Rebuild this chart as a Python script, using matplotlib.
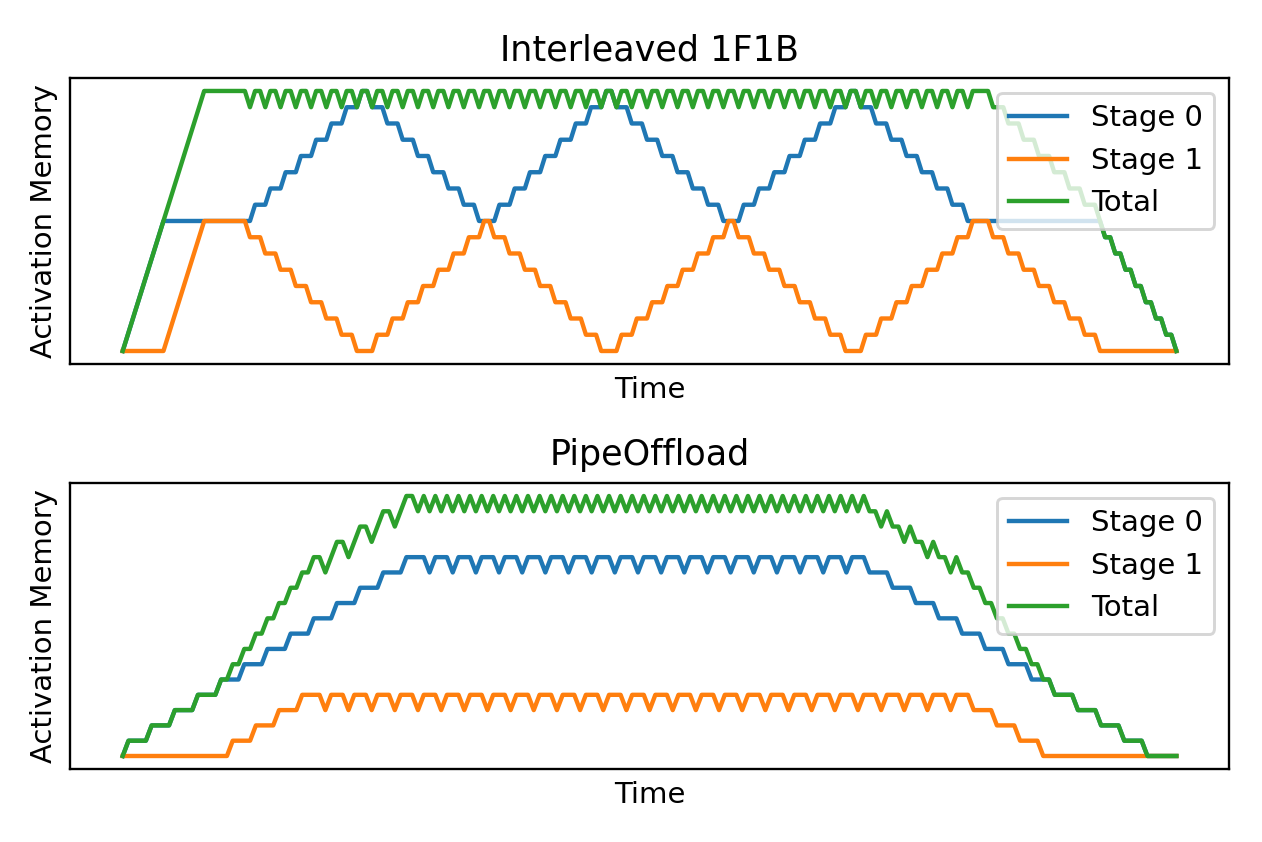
import matplotlib
matplotlib.use("Agg")
import matplotlib.pyplot as plt
import numpy as np

# ---------------- data (time in slots, memory in activation units) ----------------
# Interleaved 1F1B
top_warm_t = [0, 8, 16, 24]
top_warm_s0 = [0, 8, 8, 8]
top_warm_s1 = [0, 0, 8, 8]
top_steady_start = 24
top_steady_period = 3
top_s0_levels = [9, 10, 11, 12, 13, 14, 15, 16, 15, 14, 13, 12, 11, 10, 9, 8,
                 9, 10, 11, 12, 13, 14, 15, 16, 15, 14, 13, 12, 11, 10, 9, 8,
                 9, 10, 11, 12, 13, 14, 15, 16, 15, 14, 13, 12, 11, 10, 9, 8]
top_s1_levels = [7, 6, 5, 4, 3, 2, 1, 0, 1, 2, 3, 4, 5, 6, 7, 8,
                 7, 6, 5, 4, 3, 2, 1, 0, 1, 2, 3, 4, 5, 6, 7, 8,
                 7, 6, 5, 4, 3, 2, 1, 0, 1, 2, 3, 4, 5, 6, 7, 8]
top_cool_s1_start, top_cool_s1_period = 170, 3
top_cool_s1_levels = [7, 6, 5, 4, 3, 2, 1, 0]
top_cool_s0_start, top_cool_s0_period = 192, 2
top_cool_s0_levels = [7, 6, 5, 4, 3, 2, 1, 0]
top_end = 207

# PipeOffload: per 4-slot period, value after slot 1 (a) and after slot 2 (b)
bot_period = 4
bot_end = 182
bot_s0_start = 0
bot_s0_a = ([1, 2, 3, 4, 5, 6, 7, 8, 9, 10, 11, 12, 13] + [12] * 19 +
            [12, 11, 10, 9, 8, 7, 6, 5, 4, 3, 2, 1, 0])
bot_s0_b = ([1, 2, 3, 4, 5, 6, 7, 8, 9, 10, 11, 12, 13] + [13] * 19 +
            [12, 11, 10, 9, 8, 7, 6, 5, 4, 3, 2, 1, 0])
bot_s1_start = 2
bot_s1_a = [0, 0, 0, 0, 1, 2, 3, 4] + [3] * 28 + [3, 2, 1, 0] + [0] * 5
bot_s1_b = [0, 0, 0, 0, 1, 2, 3, 4] + [4] * 28 + [3, 2, 1, 0] + [0] * 5

labels = ["Stage 0", "Stage 1", "Total"]
titles = ["Interleaved 1F1B", "PipeOffload"]


# ---------------- path builders ----------------
def add_steps(ts, vs, start, period, levels):
    """Each step: a drop happens in slot 0, a rise in slot 1 of the period."""
    T = start
    for lev in levels:
        prev = vs[-1]
        if lev != prev:
            s = 0 if lev < prev else 1
            ts += [T + s, T + s + 1]
            vs += [prev, lev]
        T += period


def add_ab(ts, vs, start, period, a_list, b_list):
    T = start
    for a, b in zip(a_list, b_list):
        prev = vs[-1]
        if not (a == prev and b == prev):
            ts += [T, T + 1, T + 2]
            vs += [prev, a, b]
        T += period


def finish(ts, vs, end):
    ts.append(end)
    vs.append(vs[-1])
    return np.array(ts, float), np.array(vs, float)


# top
t0, v0 = list(top_warm_t), list(top_warm_s0)
add_steps(t0, v0, top_steady_start, top_steady_period, top_s0_levels)
add_steps(t0, v0, top_cool_s0_start, top_cool_s0_period, top_cool_s0_levels)
top_s0 = finish(t0, v0, top_end)

t1, v1 = list(top_warm_t), list(top_warm_s1)
add_steps(t1, v1, top_steady_start, top_steady_period, top_s1_levels)
add_steps(t1, v1, top_cool_s1_start, top_cool_s1_period, top_cool_s1_levels)
top_s1 = finish(t1, v1, top_end)

# bottom
b0t, b0v = [0], [0]
add_ab(b0t, b0v, bot_s0_start, bot_period, bot_s0_a, bot_s0_b)
bot_s0 = finish(b0t, b0v, bot_end)

b1t, b1v = [0], [0]
add_ab(b1t, b1v, bot_s1_start, bot_period, bot_s1_a, bot_s1_b)
bot_s1 = finish(b1t, b1v, bot_end)


def total(sa, sb):
    t = np.union1d(sa[0], sb[0])
    return t, np.interp(t, *sa) + np.interp(t, *sb)


# ---------------- plot ----------------
fig = plt.figure(figsize=(1262 / 210, 842 / 210), dpi=210)
ax_top = fig.add_axes([0.0555, 0.5677, 0.9184, 0.3397])
ax_bot = fig.add_axes([0.0555, 0.0867, 0.9184, 0.3397])

for ax, (sa, sb), title in zip([ax_top, ax_bot],
                               [(top_s0, top_s1), (bot_s0, bot_s1)], titles):
    ax.plot(*sa, label=labels[0])
    ax.plot(*sb, label=labels[1])
    ax.plot(*total(sa, sb), label=labels[2])
    ax.set_title(title)
    ax.set_xlabel("Time")
    ax.set_ylabel("Activation Memory")
    ax.set_xticks([])
    ax.set_yticks([])
    ax.legend(loc="upper right")

fig.savefig("out.png", dpi=210)
